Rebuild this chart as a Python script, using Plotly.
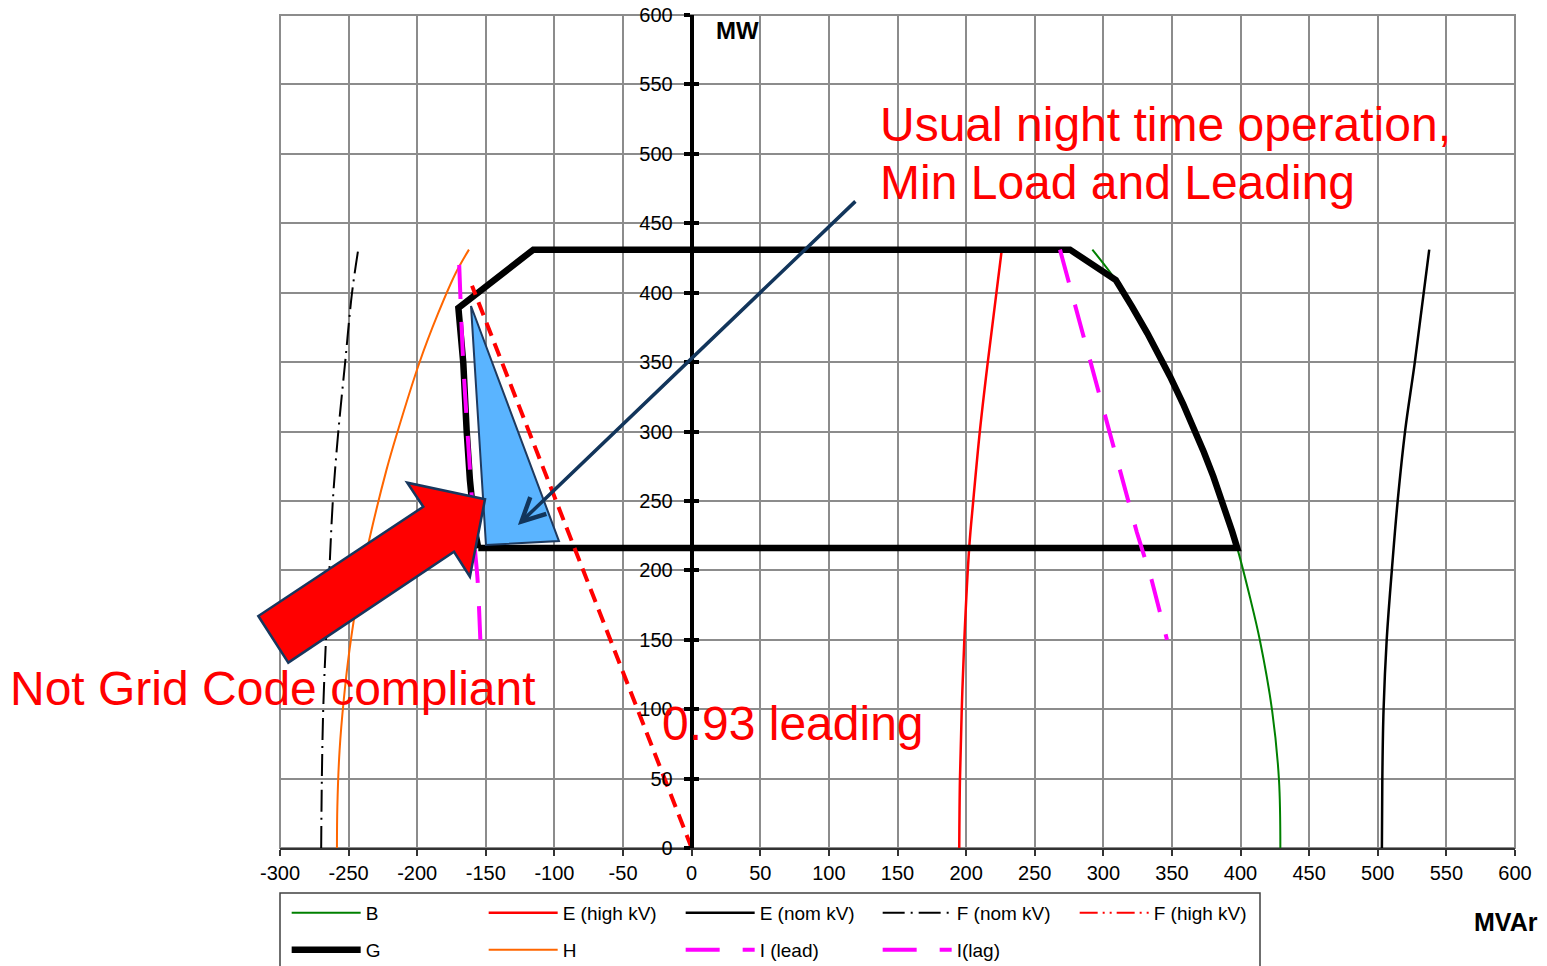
import math
import plotly.graph_objects as go

FONT = "Liberation Sans, Arial, sans-serif"

# ---- capability curves: reactive power (MVAr) vs active power (MW) ----
b_q = [292, 309.1, 320.9, 332.1, 348.7, 366.6, 380.2, 390, 397.6, 407, 414, 423, 428, 429]
b_p = [431, 409, 390, 370.7, 339.5, 301, 267.5, 240, 216, 180, 150, 99, 49, 0]

e_high_q = [195, 195.5, 196.8, 198.7, 202.3, 205.2, 210.1, 215.8, 226]
e_high_p = [0, 49, 99, 150, 217, 250, 301, 350, 431]

e_nom_q = [503, 503.3, 504.2, 506.5, 510.8, 514.5, 520, 527, 537.5]
e_nom_p = [0, 49, 99, 150, 207, 250, 301, 350, 431]

f_nom_q = [-270, -269.5, -268.5, -266.5, -264, -261.5, -257.5, -252.5, -247.5, -243]
f_nom_p = [0, 50, 100, 150, 200, 250, 300, 350, 400, 431]

f_high_q = [None]
f_high_p = [None]

g_q = [-155.5, 397.6, 393.9, 390, 385.5, 380.2, 373.3, 366.6, 358.1, 348.7, 340.7,
       332.1, 320.9, 309.1, 275.7, -115.4, -170, -166.4, -164, -161.6, -158, -155.5]
g_p = [216, 216, 228, 240, 253, 267.5, 285, 301, 320, 339.5, 355,
       370.7, 390, 409, 431, 431, 389, 349, 301, 265, 229, 216]

h_q = [-258.5, -258.2, -256.6, -253.5, -249.3, -242.2, -234.5, -222.5, -214.3,
       -198.6, -184.8, -172, -162.3]
h_p = [0, 30, 70, 107, 143, 188, 224, 272, 300, 349, 385, 414, 431]

i_lead_q = [-169.4, -166.5, -163.4, -160.6, -158, -156, -154]
i_lead_p = [420, 350, 300, 258, 216, 193, 150]

i_lag_q = [268.4, 281, 291.5, 302.4, 313.6, 324.3, 335.2, 346.4]
i_lag_p = [431, 385, 345.5, 306.4, 267.5, 227.8, 193, 150]

# power factor line
PF_LEAD = 0.93
pf_p = [0, 405]
pf_q = [-p * math.tan(math.acos(PF_LEAD)) for p in pf_p]

# highlighted operating region (triangle) and the block arrow outline
tri_q = [-160.8, -96.7, -149.9]
tri_p = [390.4, 221.1, 218.3]
blk_q = [-294.0, -315.8, -195.6, -207.3, -150.6, -161.6, -173.2]
blk_p = [133.5, 167.1, 245.8, 263.1, 251.2, 195.4, 213.4]

X_RANGE = [-300, 600]
Y_RANGE = [0, 600]
x_ticks = list(range(-300, 601, 50))
y_ticks = list(range(0, 601, 50))


def to_paper(q, p):
    return ((q - X_RANGE[0]) / (X_RANGE[1] - X_RANGE[0]),
            (p - Y_RANGE[0]) / (Y_RANGE[1] - Y_RANGE[0]))


fig = go.Figure()


def curve(name, q, p, color, width, dash="solid", legend="legend", show=True,
          yaxis="y", shape="linear"):
    fig.add_trace(go.Scatter(
        x=q, y=p, mode="lines", name=name,
        line=dict(color=color, width=width, dash=dash, shape=shape,
                  smoothing=1 if shape == "spline" else None),
        legend=legend, showlegend=show, yaxis=yaxis, hoverinfo="skip",
    ))


MAG_DASH = "34px,23px"
curve("B", b_q, b_p, "#008000", 2, shape="spline")
curve("E (high kV)", e_high_q, e_high_p, "#FF0000", 2.5, shape="spline")
curve("E (nom kV)", e_nom_q, e_nom_p, "#000000", 2.5, shape="spline")
curve("F (nom kV)", f_nom_q, f_nom_p, "#000000", 2, dash="22px,6px,2px,6px", shape="spline")
curve("F (high kV)", f_high_q, f_high_p, "#FF0000", 2, dash="18px,5px,2px,5px,2px,5px")
curve("G", g_q, g_p, "#000000", 6.5, legend="legend2")
curve("H", h_q, h_p, "#FF6600", 2, legend="legend2", shape="spline")
curve("I (lead)", i_lead_q, i_lead_p, "#FF00FF", 4, dash=MAG_DASH, legend="legend2",
      shape="spline")
curve("I(lag)", i_lag_q, i_lag_p, "#FF00FF", 4, dash=MAG_DASH, legend="legend2")
curve("0.93 leading", pf_q, pf_p, "#FF0000", 4, dash="14px,8px", show=False, yaxis="y2")

shapes = []
# plot frame
shapes.append(dict(type="rect", xref="paper", yref="paper", x0=0, x1=1, y0=0, y1=1,
                   line=dict(color="#8C8C8C", width=2), layer="below"))
# legend box
shapes.append(dict(type="rect", xref="paper", yref="paper",
                   x0=0, x1=(1260 - 280) / 1235, y0=(848 - 893) / 833, y1=(848 - 975) / 833,
                   line=dict(color="#404040", width=1.5), fillcolor="rgba(0,0,0,0)"))
# triangle
tri_path = "M " + " L ".join(f"{q},{p}" for q, p in zip(tri_q, tri_p)) + " Z"
shapes.append(dict(type="path", xref="x", yref="y", path=tri_path,
                   fillcolor="#5AB4FF", line=dict(color="#1F3A5F", width=2), layer="above"))
# block arrow
blk_pts = [to_paper(q, p) for q, p in zip(blk_q, blk_p)]
blk_path = "M " + " L ".join(f"{x:.5f},{y:.5f}" for x, y in blk_pts) + " Z"
shapes.append(dict(type="path", xref="paper", yref="paper", path=blk_path,
                   fillcolor="#FF0000", line=dict(color="#17375E", width=2.5), layer="above"))

RED_TXT = dict(family=FONT, size=48, color="#FF0000")
annotations = [
    dict(x=135.5, y=520.8, xref="x", yref="y", text="Usual night time operation,",
         showarrow=False, xanchor="left", yanchor="middle", font=RED_TXT),
    dict(x=135.5, y=479.0, xref="x", yref="y", text="Min Load and Leading",
         showarrow=False, xanchor="left", yanchor="middle", font=RED_TXT),
    dict(x=(8 - 280) / 1235, y=(848 - 688) / 833, xref="paper", yref="paper",
         text="Not Grid Code compliant", showarrow=False, xanchor="left", yanchor="middle",
         font=RED_TXT),
    dict(x=-23.0, y=89.5, xref="x", yref="y", text="0.93 leading",
         showarrow=False, xanchor="left", yanchor="middle", font=RED_TXT),
    dict(x=-126.6, y=232.7, ax=120.4, ay=466.8, xref="x", yref="y", axref="x", ayref="y",
         text="", showarrow=True, arrowhead=5, arrowsize=1.3, arrowwidth=3.5,
         arrowcolor="#12355B"),
    dict(x=33.7, y=588.5, xref="x", yref="y", text="<b>MW</b>", showarrow=False,
         xanchor="center", yanchor="middle", font=dict(family=FONT, size=24, color="#000")),
    dict(x=(1506 - 280) / 1235, y=(848 - 922) / 833, xref="paper", yref="paper",
         text="<b>MVAr</b>", showarrow=False, xanchor="center", yanchor="middle",
         font=dict(family=FONT, size=25, color="#000")),
]

legend_common = dict(orientation="h", xanchor="left", yanchor="middle",
                     itemwidth=69, entrywidth=113, entrywidthmode="pixels",
                     font=dict(family=FONT, size=19, color="#000"),
                     bgcolor="rgba(0,0,0,0)", borderwidth=0, traceorder="normal")

fig.update_layout(
    width=1547, height=966,
    margin=dict(l=280, r=32, t=15, b=118, autoexpand=False),
    paper_bgcolor="white", plot_bgcolor="white",
    font=dict(family=FONT, size=20, color="#000"),
    xaxis=dict(range=X_RANGE, tickvals=x_ticks, ticktext=[str(v) for v in x_ticks],
               showgrid=True, gridcolor="#8C8C8C",
               gridwidth=2, zeroline=False, showline=True, linecolor="#333333", linewidth=2,
               ticks="outside", ticklen=6, tickwidth=1.5, tickcolor="#333333",
               tickfont=dict(size=20)),
    yaxis=dict(range=Y_RANGE, tickvals=y_ticks, ticktext=[str(v) for v in y_ticks],
               anchor="free", position=1 / 3,
               showgrid=True, gridcolor="#8C8C8C", gridwidth=2, zeroline=False,
               showline=True, linecolor="#000000", linewidth=4,
               ticks="outside", ticklen=6, tickwidth=4, tickcolor="#000000",
               ticklabelstandoff=7, tickfont=dict(size=20)),
    yaxis2=dict(range=Y_RANGE, tickvals=y_ticks, anchor="free", position=1 / 3,
                overlaying="y", side="left", showgrid=False, zeroline=False,
                showline=False, ticks="inside", ticklen=6, tickwidth=4,
                tickcolor="#000000", showticklabels=False),
    legend=dict(legend_common, x=0.0054, y=(848 - 913) / 833),
    legend2=dict(legend_common, x=0.0054, y=(848 - 950) / 833),
    shapes=shapes,
    annotations=annotations,
    showlegend=True,
)

fig.write_html("out.html")
